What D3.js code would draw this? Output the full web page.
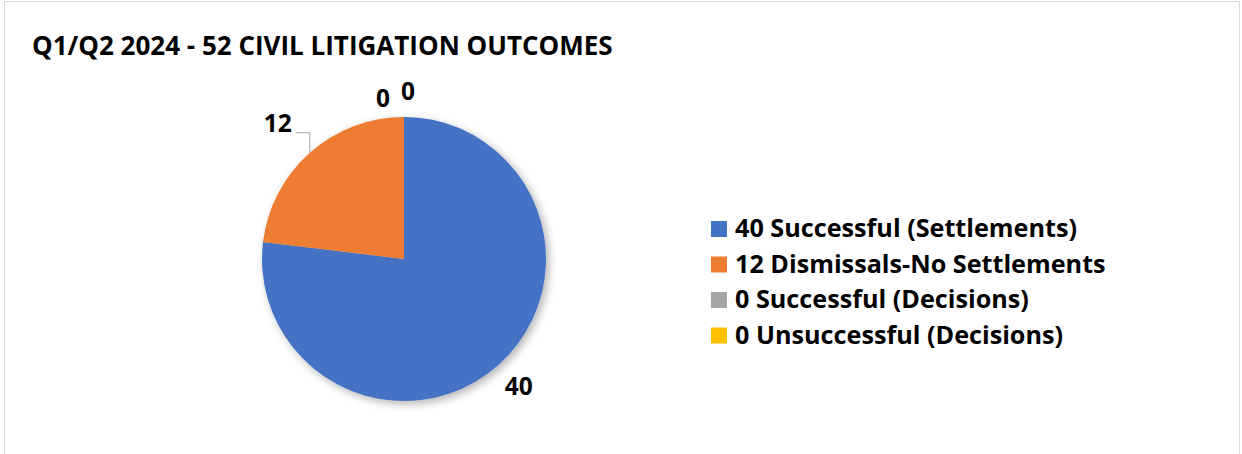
<!DOCTYPE html>
<html>
<head>
<meta charset="utf-8">
<script src="https://cdn.jsdelivr.net/npm/d3@7"></script>
<style>
  body { margin: 0; background: #fff; }
  svg text { font-family: "Open Sans", Lato, sans-serif; font-weight: bold; fill: #000; }
</style>
</head>
<body>
<div id="chart"></div>
<script>
// chart data
var title = "Q1/Q2 2024 - 52 CIVIL LITIGATION OUTCOMES";
var categories = ["Successful (Settlements)", "Dismissals-No Settlements", "Successful (Decisions)", "Unsuccessful (Decisions)"];
var values = [40, 12, 0, 0];
var colors = ["#4472C4", "#ED7D31", "#A5A5A5", "#FFC000"];

var width = 1242, height = 454;
var cx = 404, cy = 259, radius = 142;

var svg = d3.select("#chart")
  .append("svg")
    .attr("width", width)
    .attr("height", height);

// shadow under the pie
var defs = svg.append("defs");
defs.append("filter")
    .attr("id", "shadow")
    .attr("x", "-20%").attr("y", "-20%")
    .attr("width", "140%").attr("height", "140%")
  .append("feDropShadow")
    .attr("dx", 3).attr("dy", 3)
    .attr("stdDeviation", 4)
    .attr("flood-color", "#000")
    .attr("flood-opacity", 0.3);

// chart area border
svg.append("rect")
    .attr("x", 4.5).attr("y", 1.5)
    .attr("width", 1235).attr("height", 470)
    .attr("fill", "none")
    .attr("stroke", "#d9d9d9")
    .attr("stroke-width", 1);

svg.append("text")
    .attr("x", 32)
    .attr("y", 55)
    .style("font-size", "26px")
    .text(title);

var data = categories.map(function(c, i) { return {name: c, value: values[i], color: colors[i]}; });

var pie = d3.pie()
    .sort(null)
    .value(function(d) { return d.value; });

var arcs = pie(data);

var arc = d3.arc().innerRadius(0).outerRadius(radius);
var labelArc = d3.arc().innerRadius(170).outerRadius(170);
var edgeArc = d3.arc().innerRadius(radius).outerRadius(radius);

var g = svg.append("g")
    .attr("transform", "translate(" + cx + "," + cy + ")");

g.append("g")
    .attr("filter", "url(#shadow)")
  .selectAll("path")
  .data(arcs)
  .enter().append("path")
    .attr("d", arc)
    .attr("fill", function(d) { return d.data.color; });

// data labels - excel nudges the crowded ones, so small offsets per slice
var labelNudge = [[2, 0], [0, 0], [-21, 9], [4, 2]];

arcs.forEach(function(d, i) {
  var p = labelArc.centroid(d);
  if (i === 1) {
    // orange label sits out with a leader line
    var e = edgeArc.centroid(d);
    var elbow = [e[0], e[1] - 20];
    g.append("polyline")
        .attr("points", [e, elbow, [elbow[0] - 14, elbow[1]]].map(function(q) { return q.join(","); }).join(" "))
        .attr("fill", "none")
        .attr("stroke", "#a6a6a6")
        .attr("stroke-width", 1);
    g.append("text")
        .attr("x", elbow[0] - 18)
        .attr("y", elbow[1] - 9)
        .attr("dy", "0.35em")
        .attr("text-anchor", "end")
        .style("font-size", "24.5px")
        .text(d.data.value);
    return;
  }
  g.append("text")
      .attr("x", p[0] + labelNudge[i][0])
      .attr("y", p[1] + labelNudge[i][1])
      .attr("dy", "0.35em")
      .attr("text-anchor", "middle")
      .style("font-size", "24.5px")
      .text(d.data.value);
});

// legend
var legend = svg.append("g")
    .attr("transform", "translate(711,237)");

var rows = legend.selectAll("g")
  .data(data)
  .enter().append("g")
    .attr("transform", function(d, i) { return "translate(0," + (i * 35.5) + ")"; });

rows.append("rect")
    .attr("x", 0).attr("y", -16)
    .attr("width", 16).attr("height", 16)
    .attr("fill", function(d) { return d.color; });

rows.append("text")
    .attr("x", 24)
    .attr("y", 0)
    .style("font-size", "25.2px")
    .text(function(d) { return d.value + " " + d.name; });
</script>
</body>
</html>
